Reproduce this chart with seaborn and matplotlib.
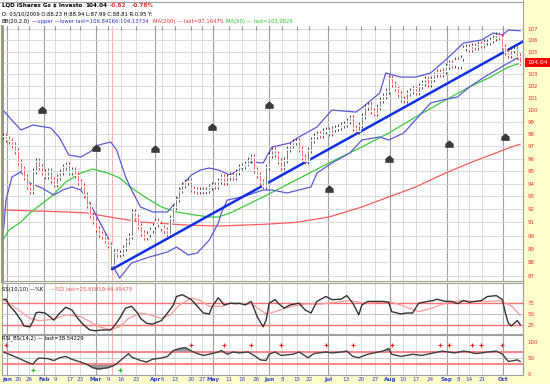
import numpy as np
import matplotlib
matplotlib.use("Agg")
import matplotlib.pyplot as plt
import matplotlib.transforms as mtrans
from matplotlib.path import Path
from matplotlib.patches import Rectangle
from matplotlib.lines import Line2D
from matplotlib.ticker import NullLocator
import seaborn as sns

sns.set_style("white")
plt.rcParams["font.family"] = ["DejaVu Sans"]
FS = 3.8

# daily closes (LQD, Jan -> Oct 2009)
closes = [
    97.8, 97.6, 97.4, 97.1, 96.6, 95.7, 95.2, 94.5, 93.8,
    93.4, 95.0, 95.8, 95.3, 94.9, 94.6, 95.0, 94.3, 94.0, 94.5,
    94.9, 95.3, 95.5, 94.9, 95.1, 94.7, 94.1, 93.8, 93.1, 92.3,
    91.6, 91.1, 90.5, 90.1, 90.0, 89.7, 89.3,
    87.8, 88.8, 88.6, 88.7, 89.1, 89.6, 90.0, 91.8, 91.4, 90.7,
    90.2, 89.9, 90.1, 90.4, 90.7, 91.1, 90.9, 90.6, 90.4, 90.1,
    91.3, 92.2, 92.8, 93.5, 93.9, 94.1, 94.2, 93.6, 93.5, 93.4,
    93.5, 93.4, 93.5, 93.7, 93.9, 93.8, 94.2, 94.5, 94.1, 94.5,
    94.7, 94.5, 94.9, 95.3, 95.4, 95.6, 95.9, 96.1, 95.1, 94.7,
    94.1, 93.8, 95.3, 96.3, 96.7, 96.4, 95.8, 95.3, 95.9, 96.8,
    97.1, 97.3, 97.4, 96.8, 96.1, 95.8, 96.7, 97.5, 97.8, 98.0,
    97.9, 98.2, 98.3, 98.1, 98.4, 98.5, 98.6, 98.7, 98.8, 99.1,
    99.3, 98.5, 98.2, 98.7, 99.5, 100.2, 100.4, 99.9, 99.7, 100.2,
    100.8, 101.2, 101.6, 102.7, 102.2, 101.8, 101.3, 100.9, 100.8, 101.4,
    101.6, 101.8, 101.5, 102.0, 102.3, 102.6, 102.2, 102.6, 103.0, 103.2,
    103.0, 103.3, 103.7, 104.0, 103.8, 104.3, 103.7, 104.4, 105.3, 105.4,
    105.2, 105.5, 105.4, 105.7, 105.6, 105.8, 105.8, 106.0, 106.2, 106.5,
    106.3, 105.4, 105.0, 104.7, 105.1, 105.2, 104.6, 104.04,
]

bb_up_day = [0, 2, 6, 10, 16, 19, 22, 26, 29, 32, 36, 38, 41, 43, 46, 50, 55, 58, 60, 63,
             66, 69, 72, 76, 83, 87, 90, 96, 99, 105, 110, 118, 120, 126, 128, 133, 138,
             143, 148, 154, 160, 164, 167, 169, 173]
bb_upper = [99.98, 99.40, 98.32, 98.73, 98.49, 97.66, 96.28, 96.12, 96.53, 97.09, 97.34,
            96.69, 94.53, 93.50, 92.18, 91.80, 91.80, 92.57, 93.89, 94.68, 95.08, 95.24,
            95.08, 94.68, 95.72, 95.64, 96.93, 97.26, 97.75, 98.57, 99.98, 99.81, 100.15,
            101.42, 103.13, 102.78, 102.78, 103.13, 104.26, 105.75, 106.02, 106.64,
            106.46, 106.91, 106.84]
bb_lo_day = [0, 1, 3, 6, 9, 13, 17, 20, 23, 26, 29, 32, 35, 36, 37, 39, 43, 49, 55, 58, 62,
             65, 69, 72, 73, 75, 80, 87, 90, 95, 103, 105, 110, 116, 120, 126, 129, 134,
             137, 143, 147, 152, 156, 161, 165, 169, 172, 173]
bb_lower = [89.89, 92.72, 94.53, 94.92, 94.05, 93.66, 93.11, 93.50, 93.74, 93.50, 92.49,
            91.18, 89.89, 89.14, 87.66, 86.85, 87.96, 88.40, 88.77, 89.14, 88.55, 88.70,
            89.67, 90.95, 91.72, 92.72, 92.96, 93.50, 93.50, 93.27, 93.74, 94.84, 95.64,
            96.45, 97.50, 97.75, 97.50, 98.07, 98.90, 100.57, 100.82, 101.08, 101.93,
            102.78, 103.39, 104.00, 104.43, 104.14]
ma50_day = [0, 2, 6, 9, 16, 21, 26, 30, 35, 39, 43, 48, 53, 58, 64, 69, 72, 76, 87, 98,
            109, 120, 129, 138, 148, 156, 163, 169, 173]
ma50 = [89.67, 90.42, 91.03, 91.72, 92.96, 94.13, 94.84, 95.16, 94.84, 94.45, 93.66,
        92.88, 92.18, 91.80, 91.57, 91.41, 91.41, 91.72, 92.96, 94.29, 95.64, 96.93,
        98.07, 99.40, 100.82, 101.93, 102.78, 103.65, 103.98]
ma200_day = [0, 21, 28, 36, 46, 61, 72, 87, 98, 109, 120, 129, 138, 148, 156, 163, 170, 173]
ma200 = [91.95, 91.80, 91.72, 91.40, 91.03, 90.80, 90.72, 90.85, 91.00, 91.41, 92.18,
         92.96, 93.74, 94.84, 95.64, 96.28, 96.93, 97.16]
pivot_day = [13, 31, 51, 70, 89, 109, 129, 149, 168]
pivot_val = [99.98, 96.85, 96.77, 98.57, 100.40, 93.58, 95.96, 97.17, 97.75]
trend_day = [36.5, 174]
trend_val = [87.5, 105.9]
mark_day = 36.5  # 03/10/2009

ssk_day = [0, 1, 2, 4, 6, 7, 9, 10, 11, 12, 14, 16, 17, 19, 21, 23, 25, 27, 29, 31, 33, 36,
           37, 39, 41, 43, 45, 46, 48, 50, 53, 55, 57, 58, 60, 63, 65, 67, 69, 70, 72, 74,
           76, 78, 79, 81, 83, 85, 87, 88, 89, 91, 92, 94, 96, 99, 101, 103, 105, 108, 110,
           113, 115, 117, 119, 120, 122, 124, 127, 129, 130, 133, 135, 137, 139, 142, 144,
           145, 148, 150, 152, 154, 156, 158, 160, 162, 165, 167, 168, 169, 170, 172, 173]
ssk = [82, 83, 70, 55, 36, 23, 21, 33, 52, 54, 52, 42, 36, 52, 65, 59, 40, 25, 14, 12, 14,
       14, 21, 40, 63, 67, 52, 40, 29, 27, 35, 52, 70, 89, 93, 82, 67, 52, 50, 67, 86, 70,
       74, 73, 74, 70, 78, 44, 21, 36, 74, 82, 74, 63, 70, 74, 59, 52, 78, 89, 82, 83, 91,
       74, 48, 70, 78, 78, 78, 76, 55, 50, 52, 52, 74, 78, 80, 83, 78, 78, 73, 80, 76, 78,
       80, 89, 91, 82, 52, 29, 23, 35, 25.6]
ssd_day = [0, 2, 6, 9, 12, 17, 21, 26, 29, 32, 36, 39, 42, 46, 49, 53, 56, 59, 63, 66, 69,
           73, 76, 79, 83, 88, 91, 96, 101, 106, 111, 116, 121, 126, 129, 133, 139, 143,
           148, 153, 158, 163, 166, 170, 173]
ssd = [82, 74, 55, 40, 35, 38, 48, 44, 33, 21, 15, 21, 40, 52, 48, 40, 48, 70, 86, 80, 67,
       67, 74, 73, 73, 50, 55, 66, 72, 72, 76, 80, 74, 76, 78, 70, 55, 62, 74, 80, 78, 78,
       80, 68, 46.5]

rsi_day = [0, 1, 3, 6, 8, 10, 11, 12, 15, 17, 19, 21, 23, 26, 28, 30, 32, 35, 37, 38, 40,
           42, 43, 46, 48, 50, 53, 55, 57, 59, 61, 63, 65, 67, 69, 72, 73, 75, 77, 79, 82,
           84, 86, 88, 89, 91, 93, 97, 99, 102, 104, 108, 110, 113, 115, 117, 119, 122, 124,
           127, 129, 130, 133, 135, 137, 140, 142, 144, 147, 149, 151, 154, 156, 158, 160,
           162, 165, 167, 169, 171, 172, 173]
rsi = [69, 66, 58, 46, 37, 30, 42, 50, 48, 42, 51, 55, 46, 37, 30, 19, 15, 19, 26, 32, 48,
       64, 53, 42, 37, 46, 50, 55, 74, 80, 83, 72, 64, 58, 62, 69, 74, 62, 69, 66, 69, 58,
       44, 42, 62, 69, 58, 62, 69, 51, 64, 69, 66, 69, 72, 55, 51, 62, 66, 72, 80, 62, 55,
       58, 62, 58, 62, 66, 72, 69, 66, 72, 69, 64, 66, 69, 72, 62, 39, 42, 44, 38.5]
sell_day = [1, 63, 74, 83, 93, 108, 117, 130, 146, 149, 157, 160, 167]
buy_day = [10, 39]

tick_pos = [1.3, 5.0, 8.7, 13.7, 17.4, 22.4, 25.8, 31.1, 35.1, 39.5, 44.5, 51.0, 53.3,
            57.5, 62.9, 66.6, 70.2, 75.6, 79.9, 84.6, 89.0, 93.3, 98.3, 102.3, 108.7,
            114.7, 119.7, 124.4, 129.4, 133.8, 138.1, 142.8, 148.5, 152.2, 155.9, 160.2,
            167.2]
tick_lab = ["Jan", "20", "26", "Feb", "9", "17", "23", "Mar", "9", "16", "23", "Apr", "6",
            "13", "20", "27", "May", "11", "18", "26", "Jun", "8", "15", "22", "Jul", "13",
            "20", "27", "Aug", "10", "17", "24", "Sep", "8", "14", "21", "Oct"]
months = {"Jan", "Feb", "Mar", "Apr", "May", "Jun", "Jul", "Aug", "Sep", "Oct"}
price_ticks = list(range(87, 108))

RED = "#F03030"
BLUE_TXT = "#2A3FD0"
W, H = 550, 384


def box(x0, y0, x1, y1):
    return [x0 / W, 1 - y1 / H, (x1 - x0) / W, (y1 - y0) / H]


fig = plt.figure(figsize=(5.5, 3.84), dpi=100, facecolor="#FFFFCC")
fig.patches.append(Rectangle((0, 1 - 26 / H), 523 / W, 26 / H, transform=fig.transFigure,
                             facecolor="white", edgecolor="none", zorder=-1))
fig.lines.append(Line2D([0, 523 / W], [1 - 1.5 / H] * 2, transform=fig.transFigure,
                        color="#A0A0A0", lw=0.8))
fig.lines.append(Line2D([523 / W] * 2, [1 - 375 / H, 1], transform=fig.transFigure,
                        color="#A0A0A0", lw=0.8))

ax = fig.add_axes(box(2, 26, 523, 281))
ax_ss = fig.add_axes(box(2, 283, 523, 334))
ax_rsi = fig.add_axes(box(2, 335, 523, 375))

for a in (ax, ax_ss, ax_rsi):
    a.set_facecolor("white")
    a.set_xlim(-0.33, 173.9)
    for s in a.spines.values():
        s.set_color("#A0A0A0")
        s.set_linewidth(0.8)
    for p, lab in zip(tick_pos, tick_lab):
        major = lab in months
        a.axvline(p, color="#A0A0A0" if major else "#D6D6D6", lw=0.8 if major else 0.6, zorder=0)
    a.axvline(mark_day, color="#FFB0B0", lw=0.8, zorder=0)
    a.yaxis.tick_right()
    a.tick_params(axis="y", length=0, pad=3, labelsize=FS + 0.2, labelcolor=RED)
ax.spines["top"].set_visible(False)
ax.spines["left"].set_color("#909090")
ax.spines["left"].set_linewidth(2)

# ---- price panel
ax.set_yscale("log")
ax.set_ylim(86.64, 107.27)
for p in price_ticks:
    ax.axhline(p, color="#D6D6D6", lw=0.6, zorder=0)
ax.set_yticks(price_ticks)
ax.set_yticklabels(["" if p == 104 else str(p) for p in price_ticks])
ax.yaxis.set_minor_locator(NullLocator())

days = np.arange(len(closes))
c = np.array(closes)
o = np.r_[c[0], c[:-1]]
hi = np.maximum(o, c) * 1.0025
lo = np.minimum(o, c) / 1.0025
col = np.where(c < o, "#FF1010", "#303030")
ax.vlines(days, lo, hi, colors=col, lw=0.6, zorder=3)
ax.bar(days, np.maximum(np.abs(c - o), 0.06), bottom=np.minimum(o, c), width=0.65,
       color=col, zorder=3)

sns.lineplot(x=ma200_day, y=ma200, ax=ax, color="#FF5A5A", lw=0.9, estimator=None, sort=False)
sns.lineplot(x=ma50_day, y=ma50, ax=ax, color="#3CCB3C", lw=0.9, estimator=None, sort=False)
sns.lineplot(x=bb_up_day, y=bb_upper, ax=ax, color="#5A5AD8", lw=0.9, estimator=None, sort=False)
sns.lineplot(x=bb_lo_day, y=bb_lower, ax=ax, color="#5A5AD8", lw=0.9, estimator=None, sort=False)
sns.lineplot(x=trend_day, y=trend_val, ax=ax, color="#1030E8", lw=1.8, estimator=None, sort=False)

house = Path([(-1, -0.8), (1, -0.8), (1, 0.15), (0, 1), (-1, 0.15), (-1, -0.8)],
             [Path.MOVETO, Path.LINETO, Path.LINETO, Path.LINETO, Path.LINETO, Path.CLOSEPOLY])
sns.scatterplot(x=pivot_day, y=pivot_val, ax=ax, marker=house, s=36, color="#3A3A3A",
                linewidth=0, zorder=5)

ax.set_xticks(tick_pos)
ax.tick_params(axis="x", top=True, bottom=False, direction="in", length=3, color="#909090",
               labeltop=False, labelbottom=False)
ax.set_xlabel("")
ax.set_ylabel("")

btr = mtrans.blended_transform_factory(ax.transAxes, ax.transData)
ax.text(1.008, closes[-1], "104.04", transform=btr, color="white", fontsize=FS + 0.4,
        va="center", ha="left", clip_on=False, zorder=10,
        bbox=dict(facecolor="#FF0000", edgecolor="none", pad=1.6))

# ---- slow stochastics
ax_ss.set_ylim(4.9, 119.3)
ax_ss.axhline(50, color="#C0C0C0", lw=0.7, zorder=0)
for lvl in (75, 25):
    ax_ss.axhline(lvl, color="#FF7070", lw=1.0, zorder=1)
sns.lineplot(x=ssd_day, y=ssd, ax=ax_ss, color="#FF9A9A", lw=0.9, estimator=None, sort=False)
sns.lineplot(x=ssk_day, y=ssk, ax=ax_ss, color="#333333", lw=1.0, estimator=None, sort=False)
ax_ss.set_yticks([25, 50, 75])
ax_ss.set_xticks([])
ax_ss.set_xlabel("")
ax_ss.set_ylabel("")

# ---- RSI
ax_rsi.set_ylim(-4, 123)
ax_rsi.axhline(50, color="#C8C8C8", lw=0.6, zorder=0)
for lvl in (70, 30):
    ax_rsi.axhline(lvl, color="#FF7A7A", lw=1.3, zorder=1)
rd = np.array(rsi_day, dtype=float)
rv = np.array(rsi, dtype=float)
ax_rsi.fill_between(rd, rv, 70, where=rv > 70, interpolate=True, color="#9A9A9A", lw=0, zorder=2)
ax_rsi.fill_between(rd, rv, 30, where=rv < 30, interpolate=True, color="#9A9A9A", lw=0, zorder=2)
sns.lineplot(x=rsi_day, y=rsi, ax=ax_rsi, color="#404040", lw=1.0, estimator=None, sort=False)
ax_rsi.scatter(sell_day, [90] * len(sell_day), marker="+", s=9, color="#FF2020", lw=0.8, zorder=4)
ax_rsi.scatter(buy_day, [11] * len(buy_day), marker="+", s=9, color="#20C020", lw=0.8, zorder=4)
ax_rsi.set_yticks([0, 50, 100])
ax_rsi.set_xticks(tick_pos)
ax_rsi.set_xticklabels(tick_lab)
ax_rsi.tick_params(axis="x", length=0, pad=1.5, labelsize=FS + 0.3, labelcolor=BLUE_TXT)
for t in ax_rsi.get_xticklabels():
    if t.get_text() in months:
        t.set_fontweight("bold")
ax_rsi.set_xlabel("")
ax_rsi.set_ylabel("")


# ---- header texts
def ftxt(x, y, s, color="black", weight="normal", size=FS):
    fig.text(x / W, 1 - y / H, s, color=color, fontsize=size, fontweight=weight,
             ha="left", va="center", zorder=10)


ftxt(2, 5.5, "LQD iShares Gs $ Investo", weight="bold", size=4.1)
ftxt(85, 5.5, "104.04", weight="bold", size=4.1)
ftxt(110, 5.5, "-0.82", color=RED, weight="bold", size=4.1)
ftxt(132, 5.5, "-0.78%", color=RED, weight="bold", size=4.1)
ftxt(2, 14, "D: 03/10/2009 O:88.23 H:88.94 L:87.99 C:88.81 R:0.95 Y:")
ftxt(2, 22, "BB(20,2.0)")
ftxt(32, 22, "\u2014upper \u2014lower last=106.84166;104.13734", color="#3030D0")
ftxt(153, 22, "MA(200) \u2014 last=97.16475", color=RED)
ftxt(226, 22, "MA(50) \u2014 last=103.9826", color="#30C030")
ftxt(2, 289, "SS(10,10) \u2014%K")
ftxt(50, 289, "\u2014%D last=25.60819;46.45479", color="#F05050")
ftxt(2, 338, "RSI_BS(14,2) \u2014 last=38.54229")

fig.savefig("out.png", dpi=100, facecolor=fig.get_facecolor())
